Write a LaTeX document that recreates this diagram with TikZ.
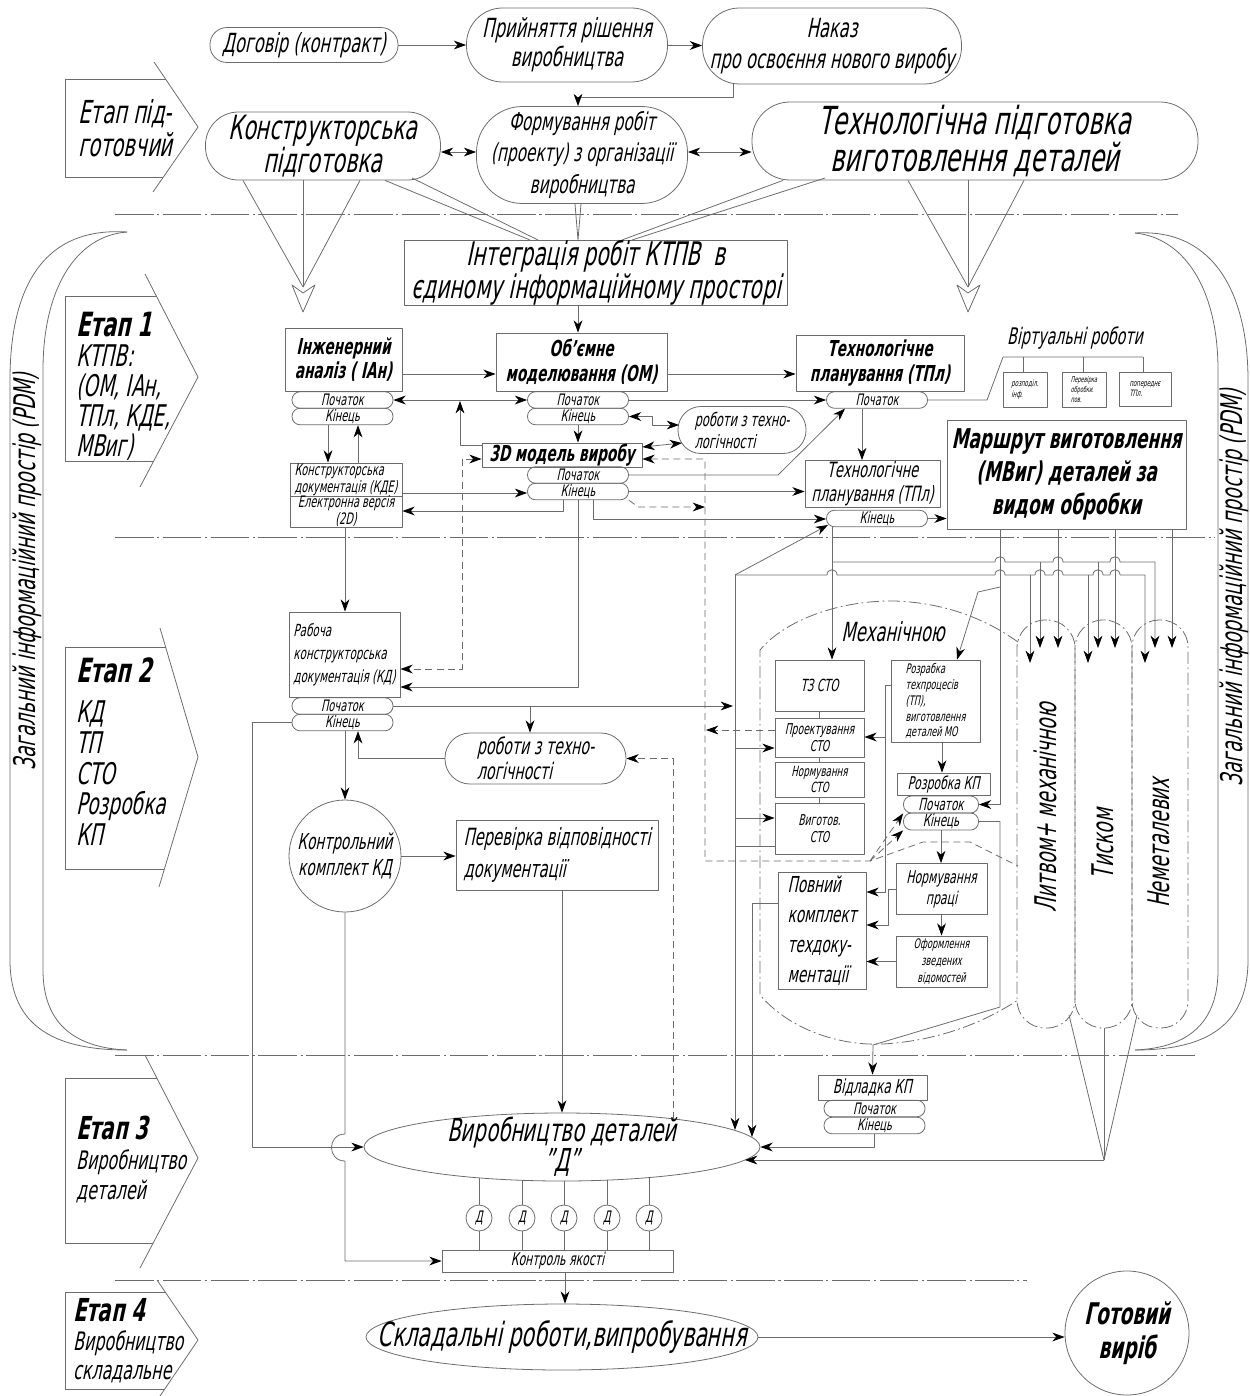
\documentclass[tikz,border=0pt]{standalone}
\usepackage{fontspec}
\setmainfont{DejaVu Sans}[FakeStretch=0.62,FakeSlant=0.21]
\usetikzlibrary{arrows.meta,shapes.geometric}
\definecolor{lc}{gray}{0.42}
\newcommand\fsz[2]{\fontsize{#1}{#2}\selectfont}
\tikzset{
  >={Stealth[length=7pt,width=5pt,inset=2.2pt,color=black]},
  ln/.style={draw=lc,line width=0.45pt},
  wh/.style 2 args={minimum width=#1*0.02cm,minimum height=#2*0.02cm},
  box/.style={ln,rectangle,inner sep=0pt,align=center},
  stad/.style={box,rounded corners=#1*0.02cm},
  pk/.style={stad=8,wh={101}{16.5},font=\fsz{9}{9}},
  ell/.style={ln,ellipse,inner sep=0pt},
  ddline/.style={ln,dash pattern=on 22pt off 2pt on 1.2pt off 2pt},
  ddshort/.style={ln,dash pattern=on 7pt off 2pt on 1pt off 2pt},
  dsh/.style={ln,dash pattern=on 4pt off 2.5pt},
  hop/.style args={#1/#2}{insert path={-- (#1-5,#2) .. controls (#1-5,#2-7) and (#1+5,#2-7) .. (#1+5,#2)}},
}
\begin{document}
\begin{tikzpicture}[x=0.02cm,y=-0.02cm,line join=round]
\useasboundingbox (0,0) rectangle (1250,1396);

\node[stad=17,wh={188}{35},font=\fsz{15}{17}] (dog) at (304,45) {Договір (контракт)};
\node[stad=36,wh={201}{74},font=\fsz{15}{16.5}] (prr) at (567,45) {Прийняття рішення\\виробництва};
\node[stad=37,wh={259}{76},font=\fsz{15}{17.5}] (nak) at (832,46) {Наказ\\про освоєння нового виробу};
\node[stad=33,wh={235}{68},font=\fsz{19}{18.5}] (kp) at (323,146) {Конструкторська\\підготовка};
\node[stad=46,wh={211}{97},font=\fsz{14}{18}] (form) at (582,155) {Формування робіт\\(проекту) з організації\\виробництва};
\node[stad=38,wh={446}{78},font=\fsz{22}{19}] (tp) at (975,141) {Технологічна підготовка\\виготовлення деталей};
\node[box,wh={383}{65},font=\fsz{18.5}{17}] (int) at (596,273) {Інтеграція робіт КТПВ\ \ в\\єдиному інформаційному просторі};

\draw[ln] (166,79) -- (65,79) -- (65,177) -- (163,177);
\draw[ln] (154,62) -- (198,127) -- (153,192);
\node[anchor=west,align=left,font=\fsz{18}{18.7}] (e0) at (72,128) {Етап під-\\готовчий};
\draw[ln] (156,296) -- (65,296) -- (65,461) -- (154,461);
\draw[ln] (145,274) -- (198,377) -- (140,487);
\node[anchor=north west,align=left,font=\fsz{17}{17}] (e1) at (70,306) {{\fsz{19}{17}\bfseries Етап 1}\\КТПВ:\\(ОМ, ІАн,\\ТПл, КДЕ,\\МВиг)};
\draw[ln] (166,647) -- (65,647) -- (65,869) -- (164,869);
\draw[ln] (160,628) -- (198,757) -- (159,887);
\node[anchor=north west,align=left,font=\fsz{17}{17.5}] (e2) at (70,652) {{\fsz{19}{17}\bfseries Етап 2}\\[5pt]КД\\ТП\\СТО\\Розробка\\КП};
\draw[ln] (157,1078) -- (65,1078) -- (65,1243) -- (153,1243);
\draw[ln] (145,1055) -- (198,1158) -- (140,1268);
\node[anchor=north west,align=left,font=\fsz{14.5}{17}] (e3) at (70,1110) {{\fsz{18}{17}\bfseries Етап 3}\\Виробництво\\деталей};
\draw[ln] (165,1292) -- (65,1292) -- (65,1389) -- (165,1389);
\draw[ln] (157,1280) -- (198,1340) -- (160,1396);
\node[anchor=north west,align=left,font=\fsz{14.5}{16.5}] (e4) at (67,1292) {{\fsz{18}{17}\bfseries Етап 4}\\Виробництво\\складальне};

\draw[ln] (127,232) .. controls (35,226) and (10,300) .. (10,380) -- (10,960) .. controls (10,1030) and (60,1050) .. (127,1050);
\draw[ln] (127,232) .. controls (75,236) and (43,290) .. (43,370) -- (43,970) .. controls (43,1028) and (80,1048) .. (127,1050);
\draw[ln] (1135,233) .. controls (1218,228) and (1248,300) .. (1248,380) -- (1248,960) .. controls (1248,1030) and (1200,1050) .. (1135,1050);
\draw[ln] (1135,233) .. controls (1185,238) and (1218,290) .. (1218,370) -- (1218,970) .. controls (1218,1028) and (1182,1048) .. (1135,1050);
\node[rotate=90,font=\fsz{17}{17}] (pdm1) at (27,572) {Загальний інформаційний простір (PDM)};
\node[rotate=90,font=\fsz{17}{17}] (pdm2) at (1234,588) {Загальний інформаційний простір (PDM)};

\draw[ddline] (115,214) -- (1178,214);
\draw[ddline] (115,537) -- (1215,537);
\draw[ddline] (115,1055) -- (1195,1055);
\draw[ddline] (115,1280) -- (1027,1280);

\node[box,wh={117}{63},font=\fsz{12.5}{14}\bfseries] (ian) at (343.5,359.5) {Інженерний\\аналіз ( ІАн)};
\node[pk] (ianp) at (342.5,400) {Початок};
\node[pk] (iank) at (342.5,416.5) {Кінець};
\node[box,wh={171}{58},font=\fsz{12.5}{14}\bfseries] (om) at (581.5,362) {Об’ємне\\моделювання (ОМ)};
\node[pk] (omp) at (578,400) {Початок};
\node[pk] (omk) at (578,416.5) {Кінець};
\node[box,wh={168}{56},font=\fsz{12.5}{14}\bfseries] (tpl) at (880,363) {Технологічне\\планування (ТПл)};
\node[pk] (tplp) at (877,400) {Початок};
\node[stad=23,wh={128}{47},align=left,font=\fsz{10.5}{12.5}] (rob1) at (742,430) {роботи з техно-\\логічності};
\node[box,wh={160}{24},font=\fsz{12.5}{13}\bfseries] (m3d) at (562,455) {3D модель виробу};
\node[pk] (m3dp) at (578,475) {Початок};
\node[pk] (m3dk) at (578,491.5) {Кінець};
\node[box,wh={112}{33},align=left,font=\fsz{9}{8.5}] (kde1) at (346,479.5) {Конструкторська\\документація (КДЕ)};
\node[box,wh={112}{31},font=\fsz{9}{8.5}] (kde2) at (346,511.5) {Електронна версія\\(2D)};
\node[box,wh={135}{47},font=\fsz{12}{13.6}] (tpl2) at (872.5,484) {Технологічне\\планування (ТПл)};
\node[pk] (tpl2k) at (877,518.5) {Кінець};
\node[box,wh={239}{109},font=\fsz{15.5}{18.7}\bfseries] (mar) at (1066.5,474.5) {Маршрут виготовлення\\(МВиг) деталей за\\видом обробки};
\node[font=\fsz{13}{13}] (virt) at (1075,338) {Віртуальні роботи};
\node[box,wh={44}{35},align=left,font=\fsz{5}{6}] (vb1) at (1025,389.5) {розподіл.\\інф.};
\node[box,wh={44}{35},align=left,font=\fsz{4.5}{5.5}] (vb2) at (1084,389.5) {Перевірка\\обробки.\\пов.};
\node[box,wh={52}{34},align=left,font=\fsz{5}{6}] (vb3) at (1145,389) {попереднє\\ТПл.};

\node[box,wh={111}{85},align=left,font=\fsz{9.5}{13}] (rkd) at (344.5,654.5) {Рабоча\\конструкторська\\документація (КД)};
\node[pk] (rkdp) at (342.5,706) {Початок};
\node[pk] (rkdk) at (342.5,722.5) {Кінець};
\node[stad=25,wh={181}{51},align=left,font=\fsz{13}{14}] (rob2) at (535.5,758.5) {роботи з техно-\\логічності};
\node[ln,circle,minimum size=112*0.02cm,inner sep=0pt,label={[font=\fsz{12.5}{15},align=center]center:{Контрольний\\комплект КД}}] (kkd) at (345,856) {};
\node[box,wh={202}{70},align=left,font=\fsz{13.5}{18}] (per) at (557,855) {Перевірка відповідності\\документації};

\draw[ddshort] (1018,642) .. controls (990,622) and (950,603) .. (895,601) .. controls (840,600) and (785,620) .. (760,650) -- (760,995) .. controls (790,1030) and (840,1046) .. (883,1044) .. controls (950,1040) and (995,1015) .. (1018,1000);
\node[font=\fsz{15}{15}] (mech) at (893,632) {Механічною};
\node[box,wh={89}{51},font=\fsz{9.5}{10}] (tz) at (819.5,685.5) {ТЗ СТО};
\node[box,wh={89}{39},font=\fsz{8.5}{9.5}] (proj) at (819.5,737.5) {Проектування\\СТО};
\node[box,wh={89}{35},font=\fsz{8}{9}] (norm) at (819.5,779.5) {Нормування\\СТО};
\node[box,wh={89}{51},font=\fsz{8.5}{10}] (vyg) at (819.5,828.5) {Виготов.\\СТО};
\node[box,wh={89}{82},align=left,font=\fsz{7.5}{9}] (rtp) at (935.5,701) {Розрабка\\техпроцесів\\(ТП),\\виготовлення\\деталей МО};
\node[box,wh={93}{22},font=\fsz{10}{10}] (rkp) at (943.5,784) {Розробка КП};
\node[stad=8,wh={75}{17},inner sep=0pt,font=\fsz{9.5}{9.5}] (rkpp) at (941,804.5) {Початок};
\node[stad=8,wh={75}{17},inner sep=0pt,font=\fsz{9.5}{9.5}] (rkpk) at (941,821.5) {Кінець};
\node[box,wh={91}{51},font=\fsz{10}{12}] (npr) at (941.5,889) {Нормування\\праці};
\node[box,wh={91}{51},font=\fsz{7.5}{9.6}] (ofo) at (941.5,961.5) {Оформлення\\зведених\\відомостей};
\node[box,wh={88}{117},align=left,font=\fsz{12.5}{17}] (pov) at (822,930.5) {Повний\\комплект\\техдоку-\\ментації};

\node[ddshort,rounded corners=28*0.02cm,wh={58}{408}] (c1) at (1046,824) {};
\node[ddshort,rounded corners=28*0.02cm,wh={57}{408}] (c2) at (1103.5,824) {};
\node[ddshort,rounded corners=27*0.02cm,wh={56}{408}] (c3) at (1160,824) {};
\node[rotate=90,font=\fsz{17}{17}] (t1) at (1045,808) {Литвом+ механічною};
\node[rotate=90,font=\fsz{17}{17}] (t2) at (1103,844) {Тиском};
\node[rotate=90,font=\fsz{17}{17}] (t3) at (1159,843) {Неметалевих};

\node[box,wh={109}{25},font=\fsz{11}{11}] (otl) at (872.5,1087.5) {Відладка КП};
\node[pk] (otlp) at (874.5,1108.5) {Початок};
\node[pk] (otlk) at (874.5,1125.5) {Кінець};

\node[ell,wh={396}{68},label={[font=\fsz{18}{17},align=center]center:{Виробництво деталей\\"Д"}}] (vd) at (562,1147) {};
\node[box,wh={231}{22},font=\fsz{10}{10}] (kya) at (557.5,1261) {Контроль якості};
\foreach \x/\y [count=\i] in {479/1178,522/1180,564/1181,607/1180,649/1178} {
  \node[ln,circle,minimum size=26*0.02cm,inner sep=0pt,font=\fsz{9}{9}] (d\i) at (\x,1218) {Д};
  \draw[ln] (\x,\y) -- (d\i.north);
  \draw[ln] (d\i.south) -- (\x,0 |- kya.north);
}
\node[ell,wh={392}{66},label={[font=\fsz{19}{19}]center:{Складальні роботи,випробування}}] (skl) at (562,1337) {};
\node[ln,circle,minimum size=124*0.02cm,inner sep=0pt,label={[font=\fsz{17}{19}\bfseries,align=center]center:{Готовий\\виріб}}] (got) at (1127,1333) {};

\draw[ln,->] (dog) -- (prr);
\draw[ln,->] (prr) -- (nak);
\draw[ln,->] (733,0 |- nak.south) -- (733,97) -- (578,97) -- (578,0 |- form.north);
\draw[ln,<->] (kp.east |- 0,152) -- (form.west |- 0,152);
\draw[ln,<->] (form.east |- 0,152) -- (tp.west |- 0,152);
\draw[ln] (243,0 |- kp.south) -- (303,287) -- (360,0 |- kp.south);
\draw[ln] (303,0 |- kp.south) -- (303,287);
\draw[ln] (292,285) -- (303,293) -- (315,285) -- (303,312) -- cycle;
\draw[ln] (908,0 |- tp.south) -- (968,287) -- (1024,0 |- tp.south);
\draw[ln] (968,0 |- tp.south) -- (968,287);
\draw[ln] (957,285) -- (968,293) -- (980,285) -- (968,312) -- cycle;
\draw[ln] (385,0 |- kp.south) -- (530,0 |- int.north);
\draw[ln] (412,178) -- (538,0 |- int.north);
\draw[ln] (783,0 |- tp.south) -- (622,0 |- int.north);
\draw[ln] (825,178) -- (632,0 |- int.north);
\draw[ln] (575,0 |- form.south) -- (578,0 |- int.north) -- (581,0 |- form.south);
\draw[ln,->] (578,0 |- int.south) -- (578,0 |- om.north);

\draw[ln,->] (ian.east |- 0,374) -- (om.west |- 0,374);
\draw[ln,->] (om.east |- 0,374) -- (tpl.west |- 0,374);
\draw[ln,<->] (ianp.east) -- (omp.west);
\draw[ln,->] (omp.east) -- (tplp.west);
\draw[ln,->] (m3d.west |- 0,445) -- (460,445) -- (460,401);
\draw[ln,<->] (omk.east) -- (652,416.5) -- (652,425) -- (679,425);
\draw[ln,->] (omk.south) -- (m3d.north -| omk.south);
\draw[ln,<->] (m3d.east |- 0,447) -- (682,443);
\draw[dsh,<-] (m3d.east |- 0,459) -- (705,459) -- (705,861) -- (870,861) -- (923,842) -- (970,842) -- (1018,866);
\draw[dsh,->] (870,861) -- (rkpp.south west);
\draw[dsh,->] (870,861) -- (rkpk.south west);
\draw[dsh,<->] (m3d.west |- 0,459) -- (462,459) -- (462,669) -- (rkd.east |- 0,669);
\draw[ln,->] (m3dk.south) -- (578,687) -- (rkd.east |- 0,687);
\draw[ln,->] (m3dp.east) -- (778,475) -- (845,0 |- tplp.south);
\draw[ln,->] (m3dk.east) -- (tpl2.west |- m3dk.east);
\draw[dsh,->] (m3dk.south east) -- (638,507) -- (705,507);
\draw[ln,->] (593,0 |- m3dk.south) -- (593,519) -- (tpl2k.west |- 0,519);
\draw[ln,->] (328,0 |- iank.south) -- (328,0 |- kde1.north);
\draw[ln,->] (358,0 |- kde1.north) -- (358,0 |- iank.south);
\draw[ln,->] (kde1.east |- 0,493) -- (m3dk.west |- 0,493);
\draw[ln,->] (563,0 |- m3dk.south) -- (563,511) -- (kde2.east |- 0,511);
\draw[ln,->] (345,0 |- kde2.south) -- (345,0 |- rkd.north);
\draw[ln,->] (862,0 |- tplp.south) -- (862,0 |- tpl2.north);
\draw[ln,->] (tpl2k.east) -- (mar.west |- tpl2k.east);
\draw[ln] (tplp.east) -- (987,400) -- (1003,357) -- (1143,357);
\foreach \x/\n in {1023/vb1,1083/vb2,1143/vb3} \draw[ln] (\x,357) -- (\x,0 |- \n.north);

\draw[ln,->] (rkdp.east) -- (733,706);
\draw[ln,->] (530,706) -- (530,0 |- rob2.north);
\draw[ln,->] (345,0 |- rkdk.south) -- (kkd.north);
\draw[ln,->] (rob2.west) -- (358,0 |- rob2.west) -- (358,0 |- rkdk.south);
\draw[ln,->] (rkdk.west) -- (252,0 |- rkdk.west) -- (252,1147) -- (vd.west);
\draw[ln,->] (kkd.south) -- (345,1134) .. controls (327,1134) and (327,1161) .. (345,1161) -- (345,0 |- kya.west) -- (kya.west);
\draw[dsh,->] (673,1119) -- (673,0 |- rob2.east) -- (rob2.east);
\draw[ln,->] (kkd.east) -- (per.west |- kkd.east);
\draw[ln,->] (562,0 |- per.south) -- (vd.north);

\draw[ln,->] (735,575) -- (735,1130);
\draw[ln,->] (735,575) -- (828,525);
\draw[ln,->] (735,748) -- (proj.west |- 0,748);
\draw[ln,->] (735,818) -- (vyg.west |- 0,818);
\draw[ln] (vyg.west |- 0,846) -- (735,846);
\draw[ln,->] (832,0 |- tpl2k.south) -- (832,0 |- tz.north);
\draw[ln] (tz) -- (proj);
\draw[ln] (proj) -- (norm);
\draw[ln] (norm) -- (vyg);
\draw[dsh,->] (proj.west |- 0,730) -- (706,730);
\draw[ln,->] (1000,0 |- mar.south) -- (1000,0 |- rkpp.east) -- (rkpp.east);
\draw[ln,->] (1000,587) -- (978,592) -- (957,0 |- rtp.north);
\draw[ln,->] (rtp.west |- 0,685) -- (885,685) -- (885,892) -- (pov.east |- 0,892);
\draw[ln,->] (885,737) -- (proj.east |- 0,737);
\draw[ln,->] (942,0 |- rtp.south) -- (942,0 |- rkp.north);
\draw[ln,->] (rkpk.south) -- (rkpk.south |- npr.north);
\draw[ln,->] (npr) -- (ofo);
\draw[ln,->] (npr.west) -- (888,0 |- npr.west) -- (888,925) -- (pov.east |- 0,925);
\draw[ln,->] (ofo.west) -- (pov.east |- ofo.west);
\draw[ln,->] (pov.west |- 0,903) -- (752,903) -- (752,1137);
\draw[ln,->] (rkpk.east) -- (1000,0 |- rkpk.east) -- (1000,1007) -- (873,1045) -- (otl.north);

\foreach \x in {1058,1115,1172} \draw[ln,->] (\x,0 |- mar.south) -- (\x,648);
\draw[ln,->] (832,562) [hop=1000/562] [hop=1058/562] [hop=1115/562] -- (1155,562) -- (1155,648);
\foreach \x in {1040,1098} \draw[ln,->] (\x,562) -- (\x,648);
\draw[ln,->] (735,575) [hop=832/575] [hop=1000/575] [hop=1040/575] [hop=1058/575] [hop=1098/575] [hop=1115/575] -- (1145,575) -- (1145,663);
\foreach \x in {1030,1088} \draw[ln,->] (\x,575) -- (\x,663);
\draw[ln] (1069,1015) -- (1104,1160) -- (1137,1015);
\draw[ln] (1104,1028) -- (1104,1160);
\draw[ln,->] (1104,1160) -- (745,1160);
\draw[ln,->] (otlk.south) -- (otlk.south |- vd.east) -- (vd.east);

\draw[ln,->] (565,0 |- kya.south) -- (565,0 |- skl.north);
\draw[ln,->] (skl.east) -- (got.west |- skl.east);

\end{tikzpicture}
\end{document}
